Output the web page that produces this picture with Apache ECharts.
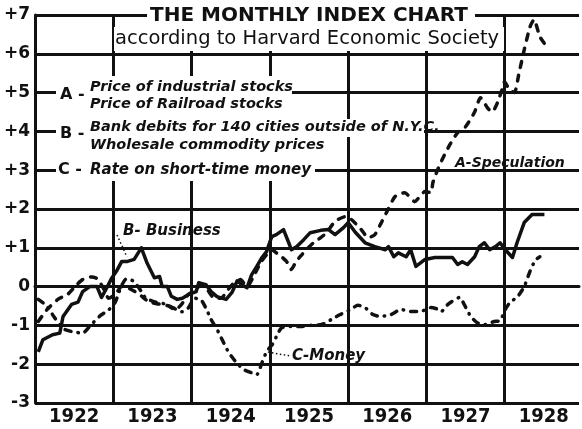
<!DOCTYPE html>
<html>
<head>
<meta charset="utf-8">
<script src="https://cdn.jsdelivr.net/npm/echarts@6/dist/echarts.min.js"></script>
<style>
  html, body { margin: 0; padding: 0; background: #fff; }
  #chart { width: 582px; height: 429px; }
</style>
</head>
<body>
<div id="chart"></div>
<script>
// months counted from Jan 1922, index value in standard deviations
const yearLabels = ['1922', '1923', '1924', '1925', '1926', '1927', '1928']

const speculation = [
  [0.5, -0.9], [1.8, -0.6], [3.5, -0.33], [5, -0.2], [6.4, 0.05], [7.3, 0.18], [8.7, 0.25],
  [9.6, 0.2], [10.5, -0.05], [11.3, -0.3], [12.3, -0.2], [13.3, 0.0], [14.5, -0.05], [16, -0.2],
  [17.5, -0.4], [19, -0.45], [20.5, -0.5], [21.5, -0.6], [22.5, -0.45], [23.5, -0.2], [24.5, -0.1],
  [25.5, 0.05], [26.5, -0.1], [27.5, -0.3], [28.5, -0.3], [29.5, -0.1], [30.5, 0.1], [31.5, 0.18],
  [32.5, 0.0], [33.5, 0.26], [34.6, 0.62], [35.5, 0.82], [36.3, 0.95], [37, 0.87], [37.8, 0.77],
  [38.6, 0.64], [39.3, 0.44], [40, 0.64], [40.9, 0.82], [41.6, 0.95], [42.7, 1.13], [43.8, 1.26],
  [44.7, 1.39], [46, 1.68], [47.5, 1.8], [48.5, 1.73], [50, 1.47], [51.1, 1.26], [52.1, 1.34],
  [53.1, 1.65], [54.1, 1.98], [55.2, 2.32], [56.7, 2.42], [58.2, 2.19], [59.8, 2.45], [60.7, 2.42],
  [61.0, 2.68], [61.7, 3.0], [62.5, 3.3], [63.6, 3.66], [64.8, 3.97], [66, 4.12], [67.4, 4.5],
  [68.3, 4.87], [69.4, 4.6], [70.1, 4.5], [70.9, 4.74], [71.6, 5.08], [72.0, 5.28], [72.7, 5.08],
  [73.5, 5.0], [74.2, 5.5], [75, 6.1], [75.9, 6.7], [76.5, 6.88], [77.4, 6.44], [78.2, 6.24]
]

const business = [
  [0.5, -1.68], [1.2, -1.37], [2.7, -1.24], [3.8, -1.2], [4.3, -0.77], [5.6, -0.46], [6.6, -0.4],
  [7.3, -0.13], [8.4, 0], [9.5, 0], [10.2, -0.28], [11.1, 0], [11.7, 0.2], [12.5, 0.4], [13.3, 0.65],
  [14.2, 0.65], [15.2, 0.7], [16.3, 1.0], [17.2, 0.6], [18.3, 0.23], [19.1, 0.26], [19.5, 0],
  [20.3, 0], [20.9, -0.25], [21.8, -0.33], [22.6, -0.3], [23.6, -0.2], [24.7, -0.13], [25.1, 0.1],
  [26.2, 0.05], [27, -0.13], [27.9, -0.26], [29.3, -0.33], [30.2, -0.15], [31, 0.15], [31.7, 0.05],
  [32.5, -0.03], [33.2, 0.3], [34, 0.52], [34.8, 0.75], [35.5, 0.9], [36.3, 1.29], [37, 1.34],
  [38.1, 1.47], [38.9, 1.13], [39.3, 0.95], [40.1, 1.03], [41.2, 1.21], [42.2, 1.39], [43.8, 1.45],
  [45, 1.47], [46, 1.34], [47.3, 1.52], [48, 1.65], [49.1, 1.4], [50.6, 1.13], [52.1, 1.03],
  [53.7, 0.95], [54.2, 1.03], [55, 0.77], [55.7, 0.87], [56.9, 0.77], [57.6, 0.95], [58.4, 0.52],
  [59.8, 0.7], [61.3, 0.75], [62.8, 0.75], [64, 0.75], [64.8, 0.57], [65.5, 0.64], [66.3, 0.57],
  [67.4, 0.77], [68.1, 1.03], [68.9, 1.13], [69.7, 0.95], [70.6, 1.03], [71.3, 1.13], [72.1, 0.95],
  [73.2, 0.75], [73.9, 1.13], [75, 1.65], [76.2, 1.86], [77.4, 1.86], [78.1, 1.86]
]

const money = [
  [0.5, -0.33], [1.8, -0.5], [3, -0.8], [4.5, -1.1], [6, -1.17], [7.3, -1.2], [8.5, -1.0],
  [10, -0.75], [11.3, -0.6], [12.3, -0.4], [13.2, 0.0], [14, 0.2], [15, 0.15], [16, -0.05],
  [17, -0.3], [18.5, -0.4], [20, -0.45], [21.2, -0.55], [22.5, -0.65], [23.5, -0.55], [24.5, -0.3],
  [25.5, -0.35], [26.3, -0.59], [27, -0.85], [27.9, -1.1], [28.7, -1.37], [29.7, -1.7], [30.9, -1.96],
  [32, -2.14], [33.2, -2.22], [34, -2.27], [34.8, -1.96], [35.5, -1.68], [36.6, -1.44], [37, -1.29],
  [37.8, -1.06], [39.2, -1.03], [40.7, -1.03], [42.2, -1.0], [43.8, -0.98], [44.7, -0.93],
  [45.4, -0.85], [46.8, -0.72], [48.3, -0.6], [49.5, -0.48], [50.6, -0.54], [51.8, -0.72],
  [53, -0.77], [54.6, -0.72], [56.1, -0.59], [57.6, -0.64], [59.1, -0.64], [60.7, -0.54],
  [61.7, -0.58], [62.3, -0.64], [63.3, -0.46], [65.1, -0.28], [65.8, -0.46], [66.8, -0.77],
  [67.8, -0.93], [69, -0.98], [70.4, -0.9], [71.3, -0.88], [72.1, -0.59], [72.9, -0.39],
  [73.9, -0.28], [75, 0.0], [75.9, 0.4], [76.7, 0.68], [77.4, 0.77]
]

const legendRows = [
  { key: 'A -', lines: ['Price of industrial stocks', 'Price of Railroad stocks'] },
  { key: 'B -', lines: ['Bank debits for 140 cities outside of N.Y.C.', 'Wholesale commodity prices'] },
  { key: 'C -', lines: ['Rate on short-time money'] }
]

const chart = echarts.init(document.getElementById('chart'))

const ink = '#111'
const gridLine = { color: ink, width: 3 }
const italic = 'italic bold 15px "DejaVu Sans"'
const legendFont = 'italic bold 14.5px "DejaVu Sans"'

const white = (x, y, w, h) => ({ type: 'rect', shape: { x, y, width: w, height: h }, style: { fill: '#fff' }, z: 50 })
const label = (x, y, text, font) => ({
  type: 'text', x, y, z: 60,
  style: { text, font, fill: ink, verticalAlign: 'middle' }
})

chart.setOption({
  animation: false,
  grid: { left: 35, right: 0, top: 15, bottom: 26 },
  xAxis: [
    {
      // the chart is cut off a little before the end of 1928
      type: 'value', min: 0, max: 83.4, interval: 12,
      axisLine: { show: true, lineStyle: gridLine },
      axisTick: { show: false },
      axisLabel: { show: false },
      splitLine: { show: true, showMaxLine: false, lineStyle: gridLine }
    },
    {
      type: 'value', min: 0, max: 83.4, interval: 6, position: 'bottom',
      axisLine: { show: false }, axisTick: { show: false }, splitLine: { show: false },
      axisLabel: {
        margin: 4, color: ink,
        fontFamily: '"Liberation Sans Narrow", "DejaVu Sans Condensed", sans-serif',
        fontWeight: 'bold', fontSize: 20,
        formatter: (v) => (v % 12 === 6 ? yearLabels[(v - 6) / 12] : '')
      }
    }
  ],
  yAxis: {
    type: 'value', min: -3, max: 7, interval: 1,
    axisLine: { show: true, lineStyle: gridLine },
    axisTick: { show: false },
    splitLine: { show: true, lineStyle: gridLine },
    axisLabel: {
      margin: 5, color: ink, fontFamily: '"DejaVu Sans"', fontWeight: 'bold', fontSize: 17,
      formatter: (v) => (v > 0 ? '+' + v : String(v))
    }
  },
  series: [
    {
      name: 'A-Speculation', type: 'line', data: speculation, showSymbol: false, smooth: 0.2,
      lineStyle: { color: ink, width: 3.5, type: [6, 8], cap: 'round' }, z: 3
    },
    {
      name: 'B-Business', type: 'line', data: business, showSymbol: false,
      lineStyle: { color: ink, width: 3.5, join: 'round' }, z: 4
    },
    {
      name: 'C-Money', type: 'line', data: money, showSymbol: false, smooth: 0.2,
      lineStyle: { color: ink, width: 3.5, type: [6, 7, 0.5, 7], cap: 'round' }, z: 3
    }
  ],
  graphic: { elements: [
    // title blocks sit over the +7 line
    white(147, 3, 328, 24),
    white(114, 27, 390, 24),
    label(150, 16, 'THE MONTHLY INDEX CHART', 'bold 20px "DejaVu Sans"'),
    label(115, 39, 'according to Harvard Economic Society', '19.5px "DejaVu Sans"'),
    // legend block
    white(56, 76, 236, 105),
    white(292, 119, 132, 18),
    white(292, 137, 23, 44),
    label(60, 95, legendRows[0].key, 'bold 16px "DejaVu Sans"'),
    label(90, 87, legendRows[0].lines[0], legendFont),
    label(90, 104, legendRows[0].lines[1], legendFont),
    label(60, 134, legendRows[1].key, 'bold 16px "DejaVu Sans"'),
    label(90, 127, legendRows[1].lines[0], legendFont),
    label(90, 145, legendRows[1].lines[1], legendFont),
    label(58, 170, legendRows[2].key, 'bold 16px "DejaVu Sans"'),
    label(90, 170, legendRows[2].lines[0], 'italic bold 15px "DejaVu Sans"'),
    // series annotations
    label(123, 231, 'B- Business', italic),
    { type: 'polyline', z: 60, shape: { points: [[117, 235], [127, 257]] },
      style: { stroke: ink, lineWidth: 1.5, lineDash: [1.5, 2.5] } },
    label(292, 356, 'C-Money', italic),
    { type: 'polyline', z: 60, shape: { points: [[268, 352], [290, 356]] },
      style: { stroke: ink, lineWidth: 1.5, lineDash: [1.5, 2.5] } },
    label(455, 163, 'A-Speculation', 'italic bold 14px "DejaVu Sans"')
  ] }
})
</script>
</body>
</html>
